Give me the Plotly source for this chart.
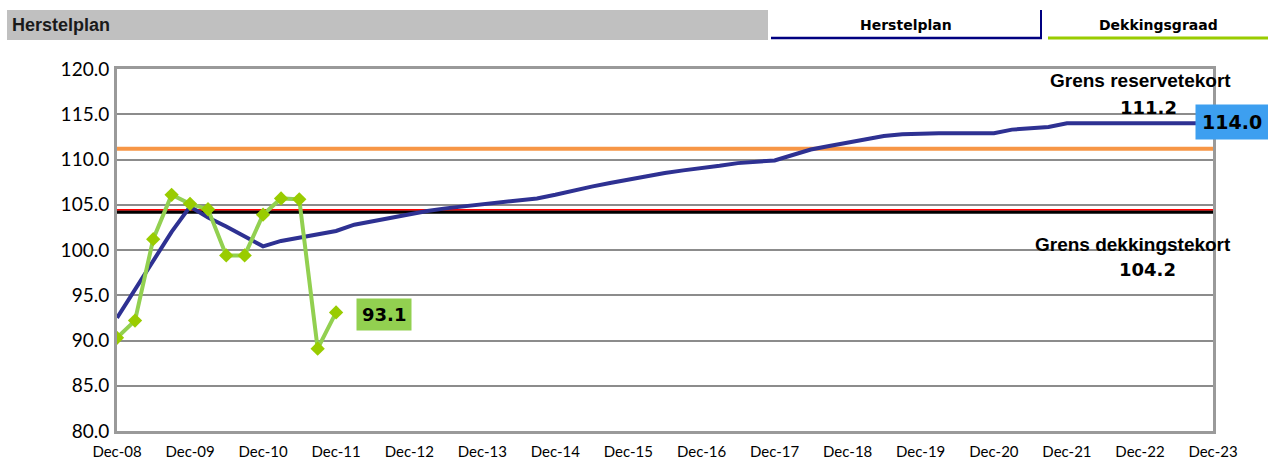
import pandas as pd
import plotly.graph_objects as go

# ---------------- data ----------------
quarters = pd.date_range("2008-12-31", "2023-12-31", freq="QE")  # Dec-08 .. Dec-23, quarterly

herstelplan = [
    92.5, 95.7, 98.9, 102.0, 104.8, 103.6, 102.6, 101.5, 100.4,
    101.0, 101.4, 101.7, 102.1, 102.8, 103.2, 103.6, 104.0,
    104.3, 104.6, 104.8, 105.0, 105.3, 105.5, 105.7, 106.1,
    106.6, 107.0, 107.4, 107.8, 108.2, 108.5, 108.8, 109.0,
    109.3, 109.6, 109.8, 109.9, 110.5, 111.1, 111.5, 111.9,
    112.2, 112.6, 112.8, 112.9, 112.9, 112.9, 112.9, 112.9,
    113.3, 113.5, 113.6, 114.0, 114.0, 114.0, 114.0, 114.0,
    114.0, 114.0, 114.0, 114.0,
]
dekkingsgraad = [90.3, 92.2, 101.2, 106.1, 105.1, 104.5, 99.4, 99.4,
                 103.9, 105.7, 105.6, 89.1, 93.1]

grens_reservetekort = 111.2
grens_dekkingstekort = 104.2
grens_dekkingstekort_rood = 104.45

tick_dates = pd.date_range("2008-12-31", "2023-12-31", freq="YE")
tick_labels = ["Dec-08", "Dec-09", "Dec-10", "Dec-11", "Dec-12", "Dec-13", "Dec-14",
               "Dec-15", "Dec-16", "Dec-17", "Dec-18", "Dec-19", "Dec-20", "Dec-21",
               "Dec-22", "Dec-23"]

# ---------------- layout helpers (pixel -> paper) ----------------
L, R, T, B = 117, 1213, 69, 431
W, H = 1268, 461


def px(x):
    return (x - L) / (R - L)


def py(y):
    return (B - y) / (B - T)


x_start, x_end = quarters[0], quarters[-1]

fig = go.Figure()

# reference lines
fig.add_trace(go.Scatter(x=[x_start, x_end], y=[grens_reservetekort] * 2, mode="lines",
                         line=dict(color="#f79646", width=4), hoverinfo="skip"))
fig.add_trace(go.Scatter(x=[x_start, x_end], y=[grens_dekkingstekort] * 2, mode="lines",
                         line=dict(color="#000000", width=3.5), hoverinfo="skip"))
fig.add_trace(go.Scatter(x=[x_start, x_end], y=[grens_dekkingstekort_rood] * 2, mode="lines",
                         line=dict(color="#ff0000", width=1.5), hoverinfo="skip"))

# herstelplan
fig.add_trace(go.Scatter(x=quarters, y=herstelplan, mode="lines",
                         line=dict(color="#2e3192", width=4), name="Herstelplan"))
# dekkingsgraad
fig.add_trace(go.Scatter(x=quarters[:len(dekkingsgraad)], y=dekkingsgraad, mode="lines+markers",
                         line=dict(color="#92d050", width=4),
                         marker=dict(symbol="diamond", size=11, color="#99cc00"),
                         name="Dekkingsgraad"))

annotations = [
    # value boxes
    dict(x=quarters[-1], y=herstelplan[-1], xref="x", yref="y", text=f"<b>{herstelplan[-1]:.1f}</b>",
         showarrow=False, xanchor="center", yanchor="middle", xshift=19, yshift=1,
         bgcolor="#3d9ff0", borderpad=6, font=dict(family="DejaVu Sans", size=19, color="#000")),
    dict(x=quarters[len(dekkingsgraad) - 1], y=dekkingsgraad[-1], xref="x", yref="y",
         text=f"<b>{dekkingsgraad[-1]:.1f}</b>", showarrow=False, xanchor="center", yanchor="middle",
         xshift=48, yshift=-2, bgcolor="#92d050", borderpad=5,
         font=dict(family="DejaVu Sans", size=18, color="#000")),
    # limit labels
    dict(x=px(1233), y=grens_reservetekort, xref="paper", yref="y", text="<b>Grens reservetekort</b>",
         showarrow=False, xanchor="right", yanchor="middle", yshift=68,
         font=dict(family="Liberation Sans", size=19, color="#000")),
    dict(x=px(1148), y=grens_reservetekort, xref="paper", yref="y", text=f"<b>{grens_reservetekort:.1f}</b>",
         showarrow=False, xanchor="center", yanchor="middle", yshift=41,
         font=dict(family="DejaVu Sans", size=18, color="#000")),
    dict(x=px(1233), y=grens_dekkingstekort, xref="paper", yref="y", text="<b>Grens dekkingstekort</b>",
         showarrow=False, xanchor="right", yanchor="middle", yshift=-33,
         font=dict(family="Liberation Sans", size=19, color="#000")),
    dict(x=px(1147), y=grens_dekkingstekort, xref="paper", yref="y", text=f"<b>{grens_dekkingstekort:.1f}</b>",
         showarrow=False, xanchor="center", yanchor="middle", yshift=-58,
         font=dict(family="DejaVu Sans", size=18, color="#000")),
    # header
    dict(x=px(10), y=py(25), xref="paper", yref="paper", text="<b>Herstelplan</b>",
         showarrow=False, xanchor="left", yanchor="middle",
         font=dict(family="Liberation Sans", size=18, color="#1a1a1a")),
    dict(x=px(906), y=py(25), xref="paper", yref="paper", text="<b>Herstelplan</b>",
         showarrow=False, xanchor="center", yanchor="middle",
         font=dict(family="DejaVu Sans", size=14, color="#000")),
    dict(x=px(1158), y=py(25), xref="paper", yref="paper", text="<b>Dekkingsgraad</b>",
         showarrow=False, xanchor="center", yanchor="middle",
         font=dict(family="DejaVu Sans", size=14, color="#000")),
]

shapes = [
    dict(type="rect", xref="paper", yref="paper", x0=px(7), x1=px(768), y0=py(40), y1=py(10),
         fillcolor="#c0c0c0", line=dict(width=0), layer="below"),
    dict(type="line", xref="paper", yref="paper", x0=px(771), x1=px(1042), y0=py(38), y1=py(38),
         line=dict(color="#000080", width=2.5)),
    dict(type="line", xref="paper", yref="paper", x0=px(1041), x1=px(1041), y0=py(38), y1=py(10),
         line=dict(color="#000080", width=2)),
    dict(type="line", xref="paper", yref="paper", x0=px(1048), x1=px(1268), y0=py(38), y1=py(38),
         line=dict(color="#99cc00", width=3)),
]

fig.update_layout(
    width=W, height=H,
    margin=dict(l=L, r=W - R, t=T, b=H - B, pad=0, autoexpand=False),
    paper_bgcolor="white", plot_bgcolor="white",
    showlegend=False,
    annotations=annotations,
    shapes=shapes,
    font=dict(family="Lato", color="#000"),
)
fig.update_xaxes(
    range=[x_start, x_end], tickvals=list(tick_dates), ticktext=tick_labels,
    showgrid=False, zeroline=False, ticks="", automargin=False,
    showline=True, mirror=True, linecolor="#9a9a9a", linewidth=3,
    tickfont=dict(family="Lato", size=15, color="#000"), ticklabelstandoff=5,
)
fig.update_yaxes(
    range=[80, 120], dtick=5, tick0=80, tickformat=".1f", automargin=False,
    showgrid=True, gridcolor="#8c8c8c", gridwidth=2, zeroline=False, ticks="",
    showline=True, mirror=True, linecolor="#9a9a9a", linewidth=3,
    tickfont=dict(family="Lato", size=19, color="#000"), ticklabelstandoff=1,
)

fig.write_html(
    "out.html",
    config={"displayModeBar": False},
    post_script="document.body.style.margin='0';document.body.style.padding='0';"
                "document.body.style.overflow='hidden';",
)
